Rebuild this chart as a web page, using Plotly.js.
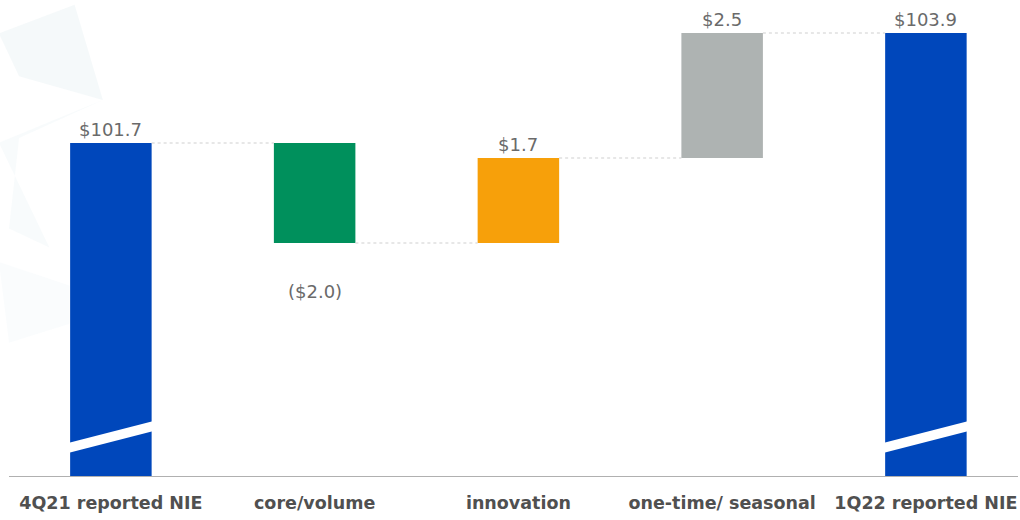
<!DOCTYPE html>
<html>
<head>
<meta charset="utf-8">
<script src="https://cdn.plot.ly/plotly-3.0.1.min.js"></script>
<style>html,body{margin:0;padding:0;background:#fff;}#chart{width:1020px;height:520px;}</style>
</head>
<body>
<div id="chart"></div>
<script>
var categories = ['4Q21 reported NIE', 'core/volume', 'innovation', 'one-time/ seasonal', '1Q22 reported NIE'];
var values = [101.7, -2.0, 1.7, 2.5, 103.9];
var measures = ['total', 'relative', 'relative', 'relative', 'total'];
var valueLabels = ['$101.7', '($2.0)', '$1.7', '$2.5', '$103.9'];
var barColors = ['#0047BB', '#00905C', '#F7A00A', '#AEB3B2', '#0047BB'];

var xs = categories.map(function (c, i) { return i; });
var bases = [], heights = [], tops = [], bottoms = [];
var running = 0;
values.forEach(function (v, i) {
  if (measures[i] === 'total') {
    bases.push(0); heights.push(v); running = v;
    tops.push(v); bottoms.push(0);
  } else {
    bases.push(running); heights.push(v);
    tops.push(Math.max(running, running + v));
    bottoms.push(Math.min(running, running + v));
    running += v;
  }
});
var levels = [];
running = 0;
values.forEach(function (v, i) {
  running = measures[i] === 'total' ? v : running + v;
  levels.push(running);
});

var BW = 0.4;
var shapes = [];
// faint background decoration
shapes.push({type: 'path', xref: 'paper', yref: 'paper', layer: 'below', line: {width: 0},
  fillcolor: 'rgba(214,232,236,0.25)',
  path: 'M -0.01 0.93 L 0.065 0.99 L 0.093 0.79 L 0.01 0.84 Z'});
shapes.push({type: 'path', xref: 'paper', yref: 'paper', layer: 'below', line: {width: 0},
  fillcolor: 'rgba(222,236,240,0.22)',
  path: 'M -0.01 0.70 L 0.093 0.79 L 0.01 0.71 L 0.0 0.52 L 0.04 0.48 Z'});
shapes.push({type: 'path', xref: 'paper', yref: 'paper', layer: 'below', line: {width: 0},
  fillcolor: 'rgba(230,240,243,0.18)',
  path: 'M -0.01 0.45 L 0.06 0.40 L 0.06 0.32 L 0.0 0.28 Z'});
// connectors
for (var i = 0; i < values.length - 1; i++) {
  shapes.push({type: 'line', xref: 'x', yref: 'y', x0: i + BW / 2, x1: i + 1 - BW / 2,
    y0: levels[i], y1: levels[i], line: {color: '#cfcfcf', width: 1, dash: 'dot'}});
}
// axis-break slashes on total bars
values.forEach(function (v, i) {
  if (measures[i] !== 'total') return;
  var l = i - BW / 2 - 0.01, r = i + BW / 2 + 0.01;
  shapes.push({type: 'path', xref: 'x', yref: 'paper', line: {width: 0}, fillcolor: '#ffffff',
    path: 'M ' + l + ' 0.0693 L ' + r + ' 0.1155 L ' + r + ' 0.0945 L ' + l + ' 0.0483 Z'});
});

var annotations = valueLabels.map(function (t, i) {
  var neg = measures[i] === 'relative' && values[i] < 0;
  return {x: i, y: neg ? bottoms[i] : tops[i], xref: 'x', yref: 'y', text: t, showarrow: false,
    yanchor: 'middle', yshift: neg ? -48 : 14,
    font: {family: 'DejaVu Sans, sans-serif', size: 18, color: '#6a6a6a'}};
});

var trace = {
  type: 'bar', x: xs, y: heights, base: bases, width: BW,
  marker: {color: barColors, line: {width: 0}},
  hoverinfo: 'skip'
};

var layout = {
  width: 1020, height: 520,
  margin: {l: 9, r: 2, t: 0, b: 44},
  paper_bgcolor: '#ffffff', plot_bgcolor: 'rgba(0,0,0,0)',
  showlegend: false,
  xaxis: {range: [-0.5, 4.452], tickvals: xs,
    ticktext: categories.map(function (c) { return '<b>' + c + '</b>'; }),
    tickfont: {family: 'DejaVu Sans, sans-serif', size: 17.5, color: '#505050'},
    showgrid: false, zeroline: false, showline: true, linecolor: '#b0b0b0', linewidth: 1,
    ticks: '', ticklabelstandoff: 11, fixedrange: true},
  yaxis: {range: [95.04, 104.56], visible: false, showgrid: false, zeroline: false, fixedrange: true},
  shapes: shapes,
  annotations: annotations
};

Plotly.newPlot('chart', [trace], layout, {displayModeBar: false, staticPlot: true});
</script>
</body>
</html>
